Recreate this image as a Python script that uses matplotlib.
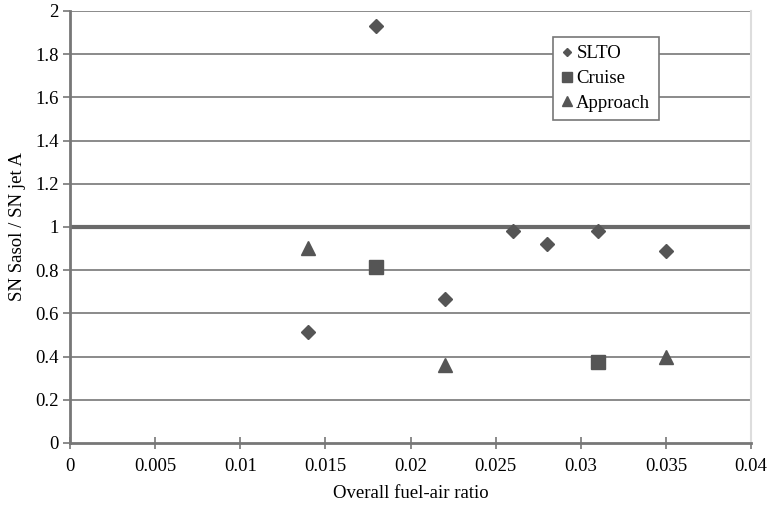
import matplotlib.pyplot as plt
import numpy as np

plt.rcParams['font.family'] = ['Liberation Serif', 'DejaVu Serif']

# data
slto_x = [0.014, 0.018, 0.022, 0.026, 0.028, 0.031, 0.035]
slto_y = [0.515, 1.93, 0.665, 0.98, 0.92, 0.98, 0.89]
cruise_x = [0.018, 0.031]
cruise_y = [0.815, 0.375]
approach_x = [0.014, 0.022, 0.035]
approach_y = [0.905, 0.36, 0.40]

xticks = np.arange(0, 0.0401, 0.005)
xtick_labels = ['0', '0.005', '0.01', '0.015', '0.02', '0.025', '0.03', '0.035', '0.04']
yticks = np.arange(0, 2.01, 0.2)
ytick_labels = ['0', '0.2', '0.4', '0.6', '0.8', '1', '1.2', '1.4', '1.6', '1.8', '2']

mcol = '#555555'
fs = 13.5

fig = plt.figure(figsize=(7.7, 5.09), dpi=100)
ax = fig.add_axes([0.0909, 0.1297, 0.8845, 0.8487])

# horizontal grid
for yv in yticks[1:]:
    if abs(yv - 1.0) < 1e-9:
        ax.axhline(yv, color='#6a6a6a', lw=3.0, zorder=1)
    else:
        ax.axhline(yv, color='#8a8a8a', lw=1.4, zorder=1)

ax.plot(slto_x, slto_y, 'D', color=mcol, ms=7, ls='none', label='SLTO', zorder=3)
ax.plot(cruise_x, cruise_y, 's', color=mcol, ms=10, ls='none', label='Cruise', zorder=3)
ax.plot(approach_x, approach_y, '^', color=mcol, ms=10, ls='none', label='Approach', zorder=3)

ax.set_xlim(0, 0.04)
ax.set_ylim(0, 2)
ax.set_xticks(xticks)
ax.set_xticklabels(xtick_labels)
ax.set_yticks(yticks)
ax.set_yticklabels(ytick_labels)

ax.spines['top'].set_visible(False)
ax.spines['right'].set_color('#dddddd')
ax.spines['right'].set_linewidth(1.5)
ax.spines['left'].set_color('#777777')
ax.spines['left'].set_linewidth(2)
ax.spines['bottom'].set_color('#777777')
ax.spines['bottom'].set_linewidth(2)

ax.tick_params(axis='x', direction='inout', length=8, width=1.2, color='#777777', labelsize=fs, pad=7)
ax.tick_params(axis='y', direction='out', length=5, width=1.2, color='#777777', labelsize=fs, pad=3)

ax.set_xlabel('Overall fuel-air ratio', fontsize=fs, labelpad=7)
ax.set_ylabel('SN Sasol / SN jet A', fontsize=fs, labelpad=7)

leg = ax.legend(loc='upper left', bbox_to_anchor=(0.709, 0.94), fontsize=fs,
                handlelength=0.6, handletextpad=0.2, borderpad=0.45, labelspacing=0.4,
                markerscale=0.65, frameon=True, fancybox=False, borderaxespad=0)
leg.get_frame().set_edgecolor('#777777')
leg.get_frame().set_linewidth(1.2)
leg.get_frame().set_alpha(1)

plt.savefig('out.png', dpi=100)
